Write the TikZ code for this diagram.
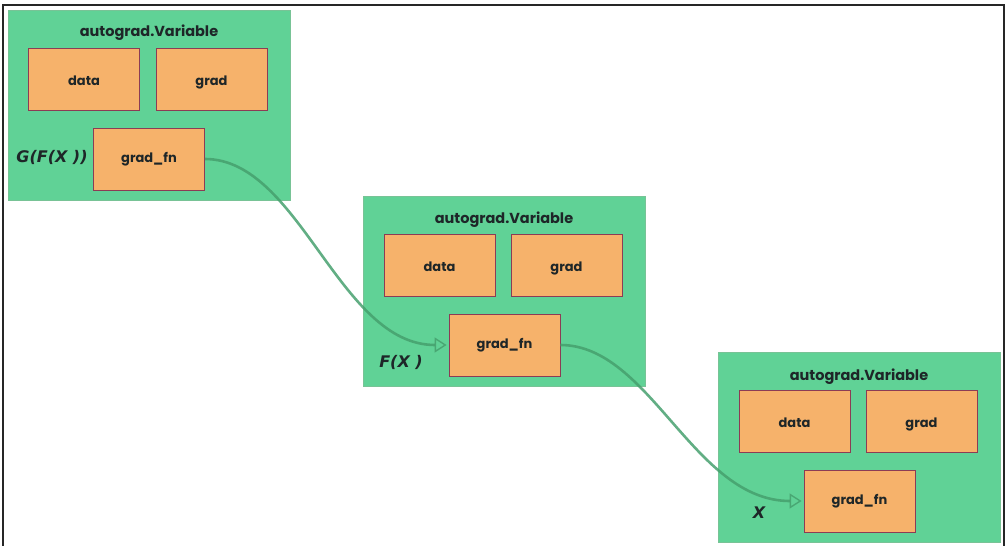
\documentclass[tikz,border=0pt]{standalone}
\usepackage{fontspec}
\setmainfont{Poppins}
\newfontfamily\handfont{DejaVu Sans}
\usetikzlibrary{arrows.meta}
\definecolor{vargreen}{RGB}{96,210,150}
\definecolor{varedge}{RGB}{120,195,150}
\definecolor{fieldorange}{RGB}{246,178,107}
\definecolor{fieldedge}{RGB}{140,60,85}
\definecolor{linkgreen}{RGB}{70,160,110}
\definecolor{inkdark}{RGB}{30,38,40}
\begin{document}
\begin{tikzpicture}[x=1pt,y=-1pt,
    every node/.style={text=inkdark, font=\bfseries\fontsize{13}{15}\selectfont},
    varbox/.style={draw=varedge, fill=vargreen, line width=1pt, anchor=north west,
      minimum width=282pt, minimum height=190pt, inner sep=0pt},
    fieldbox/.style={draw=fieldedge, fill=fieldorange, line width=0.8pt,
      minimum width=111pt, minimum height=62pt, inner sep=0pt},
    lowfield/.style={fieldbox, text height=16pt, text depth=3pt},
    vartitle/.style={font=\bfseries\fontsize{14.5}{16}\selectfont},
    hand/.style={font=\handfont\bfseries\itshape\fontsize{16}{18}\selectfont},
    link/.style={draw=linkgreen, opacity=0.85, line width=2.6pt,
      -{Triangle[open, length=12pt, width=15pt, line width=1.4pt]}, shorten >=2pt}]
    \useasboundingbox (0,0) rectangle (1007,546);
    \draw[black!85, line width=1.6pt] (3,546) |- (1004,5) -- (1004,546);

    \begin{scope}[shift={(8,10)}]
      \node[varbox] (var1) at (0,0) {};
      \node[vartitle] (title1) at (141,23) {autograd.Variable};
      \node[lowfield] (data1) at (76,69) {data};
      \node[lowfield] (grad1) at (203.5,69) {grad};
      \node[fieldbox] (gfn1) at (141,149) {grad\_fn};
      \node[hand] (lab1) at (44,147) {G(F(X ))};
    \end{scope}

    \begin{scope}[shift={(363,196)}]
      \node[varbox] (var2) at (0,0) {};
      \node[vartitle] (title2) at (141,24) {autograd.Variable};
      \node[lowfield] (data2) at (76.5,69) {data};
      \node[lowfield] (grad2) at (203.5,69) {grad};
      \node[fieldbox] (gfn2) at (141.5,149) {grad\_fn};
      \node[hand] (lab2) at (38,166) {F(X )};
    \end{scope}

    \begin{scope}[shift={(718,352)}]
      \node[varbox] (var3) at (0,0) {};
      \node[vartitle] (title3) at (141,25) {autograd.Variable};
      \node[lowfield] (data3) at (76.5,69) {data};
      \node[lowfield] (grad3) at (203.5,69) {grad};
      \node[fieldbox] (gfn3) at (141.5,149) {grad\_fn};
      \node[hand] (lab3) at (41,161) {X};
    \end{scope}

    % links between grad_fn boxes
    \draw[link] (gfn1.east) .. controls +(95,0) and +(-110,0) .. (gfn2.west);
    \draw[link] (gfn2.east) .. controls +(90,0) and +(-110,0) .. (gfn3.west);
  \end{tikzpicture}
\end{document}
